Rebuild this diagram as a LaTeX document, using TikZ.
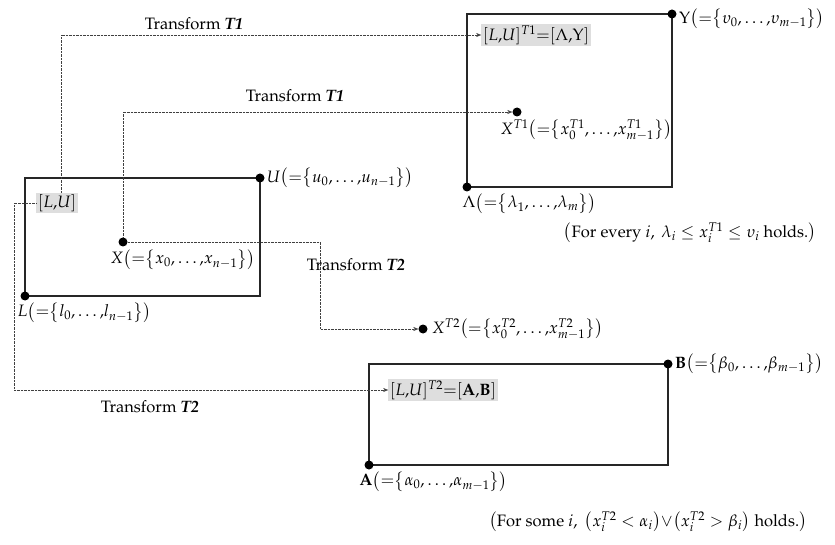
\documentclass[tikz,border=0pt]{standalone}
\usepackage[T1]{fontenc}
\usepackage{mathpazo}
\usepackage{amsmath}
\usepackage{tikz}
\usetikzlibrary{arrows.meta, positioning}

\newcommand{\seteq}[1]{\bigl({=}\bigl\{#1\bigr\}\bigr)}

\begin{document}
\begin{tikzpicture}[x=1pt, y=-1pt, >=Stealth,
    font=\fontsize{16.5}{19}\selectfont,
    region/.style={line width=1.6pt, black!85},
    corner/.style={circle, fill=black, inner sep=0pt, minimum size=9pt},
    shaded/.style={fill=black!13, inner sep=1.5pt},
    transfer/.style={densely dotted, thin, black!75, -{Stealth[length=5pt, width=4pt]}},
    tag/.style={inner sep=1pt}]
    \useasboundingbox (0,0) rectangle (835,545);

    \draw[region] (25,296) rectangle (260,178);
    \draw[region] (467,187) rectangle (672,14);
    \draw[region] (369,465) rectangle (668,364);

    \node[corner] (U) at (260,178) {};
    \node[corner] (L) at (25,296) {};
    \node[corner] (X) at (123,242) {};
    \node[corner] (Ups) at (672,14) {};
    \node[corner] (Lam) at (467,187) {};
    \node[corner] (XT1) at (517,112) {};
    \node[corner] (XT2) at (423,329) {};
    \node[corner] (B) at (668,364) {};
    \node[corner] (A) at (369,465) {};

    \node[tag, right=1pt of Ups, yshift=-5pt] (Upslab) {$\Upsilon\seteq{\upsilon_0{,}\ldots{,}\upsilon_{m-1}}$};
    \node[tag, right=1pt of U] (Ulab) {$U\seteq{u_0{,}\ldots{,}u_{n-1}}$};
    \node[tag, below right=2pt and -12pt of L] (Llab) {$L\seteq{l_0{,}\ldots{,}l_{n-1}}$};
    \node[tag, below right=3pt and -17pt of X] (Xlab) {$X\seteq{x_0{,}\ldots{,}x_{n-1}}$};
    \node[tag, below right=2pt and -9pt of Lam] (Lamlab) {$\Lambda\seteq{\lambda_1{,}\ldots{,}\lambda_m}$};
    \node[tag, below right=3pt and -21pt of XT1] (XT1lab) {$X^{T1}\seteq{x_0^{T1}{,}\ldots{,}x_{m-1}^{T1}}$};
    \node[tag, right=3pt of XT2] (XT2lab) {$X^{T2}\seteq{x_0^{T2}{,}\ldots{,}x_{m-1}^{T2}}$};
    \node[tag, right=1pt of B] (Blab) {$\mathbf{B}\seteq{\beta_0{,}\ldots{,}\beta_{m-1}}$};
    \node[tag, below right=2pt and -14pt of A] (Alab) {$\mathbf{A}\seteq{\alpha_0{,}\ldots{,}\alpha_{m-1}}$};

    \node[shaded] (LU) at (57,203) {$[L{,}U]$};
    \node[shaded] (LUT1) at (536,35) {$[L{,}U]^{T1}{=}[\Lambda{,}\Upsilon]$};
    \node[shaded] (LUT2) at (443,390) {$[L{,}U]^{T2}{=}[\mathbf{A}{,}\mathbf{B}]$};

    \node[tag] (every) at (690,233) {$\bigl(\text{For every } i,\ \lambda_i\le x_i^{T1}\le\upsilon_i \text{ holds.}\bigr)$};
    \node[tag] (some) at (648,522) {$\bigl(\text{For some } i,\ \bigl(x_i^{T2}<\alpha_i\bigr){\vee}\bigl(x_i^{T2}>\beta_i\bigr) \text{ holds.}\bigr)$};

    \coordinate (bend) at (320,242);
    \draw[transfer] ([xshift=4pt]LU.north) |- (LUT1.west);
    \draw[transfer] (LU.west) -- ++(-22,0) |- (LUT2.west);
    \draw[transfer] (X) |- (XT1);
    \draw[transfer] (X) -- (bend) |- (XT2);

    \node[tag] (t1a) at (194,24) {Transform \textbf{\textit{T1}}};
    \node[tag] (t1b) at (295,96) {Transform \textbf{\textit{T1}}};
    \node[tag] (t2a) at (356,265) {Transform \textbf{\textit{T2}}};
    \node[tag] (t2b) at (150,407) {Transform \textbf{\textit{T2}}};
\end{tikzpicture}
\end{document}
